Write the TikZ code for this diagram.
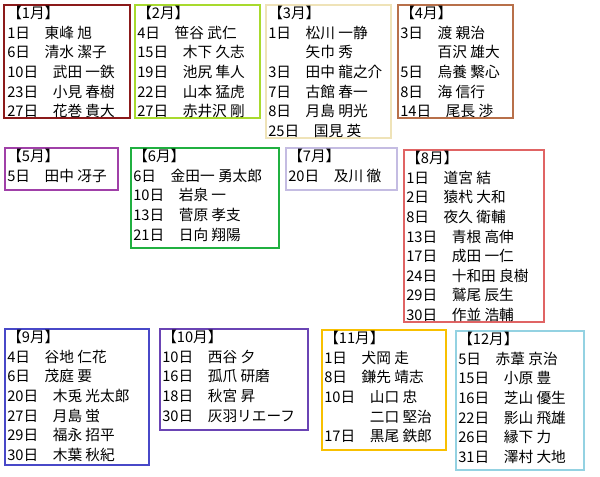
\documentclass[tikz,border=0pt]{standalone}
\usepackage{fontspec}
\setmainfont{Noto Sans CJK JP}
\usetikzlibrary{calc}
\definecolor{janc}{HTML}{8B1A1A}
\definecolor{febc}{HTML}{A8DA2E}
\definecolor{marc}{HTML}{EFE3B8}
\definecolor{aprc}{HTML}{B8704A}
\definecolor{mayc}{HTML}{A040A8}
\definecolor{junc}{HTML}{20B040}
\definecolor{julc}{HTML}{C4BCE2}
\definecolor{augc}{HTML}{E06464}
\definecolor{sepc}{HTML}{4848C8}
\definecolor{octc}{HTML}{6A44B4}
\definecolor{novc}{HTML}{F8C000}
\definecolor{decc}{HTML}{94D2E2}
\tikzset{
    frame/.style={line width=2.2pt},
    list/.style={anchor=north west, align=left, inner sep=0pt,
      font=\fontsize{11pt}{14.7pt}\selectfont}
}
\begin{document}
\begin{tikzpicture}[x=0.75pt,y=-0.75pt]
\useasboundingbox (0,0) rectangle (600,476);

\draw[frame, janc] (4,5) rectangle (130,118);
\node[list] (jan) at (7,6) {【1月】\\1日　東峰 旭\\6日　清水 潔子\\10日　武田 一鉄\\23日　小見 春樹\\27日　花巻 貴大};

\draw[frame, febc] (135,5) rectangle (260,118);
\node[list] (feb) at (137,6) {【2月】\\4日　笹谷 武仁\\15日　木下 久志\\19日　池尻 隼人\\22日　山本 猛虎\\27日　赤井沢 剛};

\draw[frame, marc] (266,5) rectangle (391,138);
\node[list] (mar) at (268,6) {【3月】\\1日　松川 一静\\\phantom{1日}　矢巾 秀\\3日　田中 龍之介\\7日　古館 春一\\8日　月島 明光\\25日　国見 英};

\draw[frame, aprc] (398,5) rectangle (513,118);
\node[list] (apr) at (400,6) {【4月】\\3日　渡 親治\\\phantom{3日}　百沢 雄大\\5日　烏養 繋心\\8日　海 信行\\14日　尾長 渉};

\draw[frame, mayc] (5,148) rectangle (118,190);
\node[list] (may) at (7,149) {【5月】\\5日　田中 冴子};

\draw[frame, junc] (131,148) rectangle (279,248);
\node[list] (jun) at (133,149) {【6月】\\6日　金田一 勇太郎\\10日　岩泉 一\\13日　菅原 孝支\\21日　日向 翔陽};

\draw[frame, julc] (286,148) rectangle (397,190);
\node[list] (jul) at (288,149) {【7月】\\20日　及川 徹};

\draw[frame, augc] (404,150) rectangle (544,322);
\node[list] (aug) at (406,151) {【8月】\\1日　道宮 結\\2日　猿杙 大和\\8日　夜久 衛輔\\13日　青根 高伸\\17日　成田 一仁\\24日　十和田 良樹\\29日　鷲尾 辰生\\30日　作並 浩輔};

\draw[frame, sepc] (5,329) rectangle (149,465);
\node[list] (sep) at (7,330) {【9月】\\4日　谷地 仁花\\6日　茂庭 要\\20日　木兎 光太郎\\27日　月島 蛍\\29日　福永 招平\\30日　木葉 秋紀};

\draw[frame, octc] (160,329) rectangle (308,430);
\node[list] (oct) at (162,330) {【10月】\\10日　西谷 夕\\16日　孤爪 研磨\\18日　秋宮 昇\\30日　灰羽リエーフ};

\draw[frame, novc] (322,330) rectangle (446,450);
\node[list] (nov) at (324,331) {【11月】\\1日　犬岡 走\\8日　鎌先 靖志\\10日　山口 忠\\\phantom{10日}　二口 堅治\\17日　黒尾 鉄郎};

\draw[frame, decc] (456,331) rectangle (584,470);
\node[list] (dec) at (458,332) {【12月】\\5日　赤葦 京治\\15日　小原 豊\\16日　芝山 優生\\22日　影山 飛雄\\26日　縁下 力\\31日　澤村 大地};
\end{tikzpicture}
\end{document}
